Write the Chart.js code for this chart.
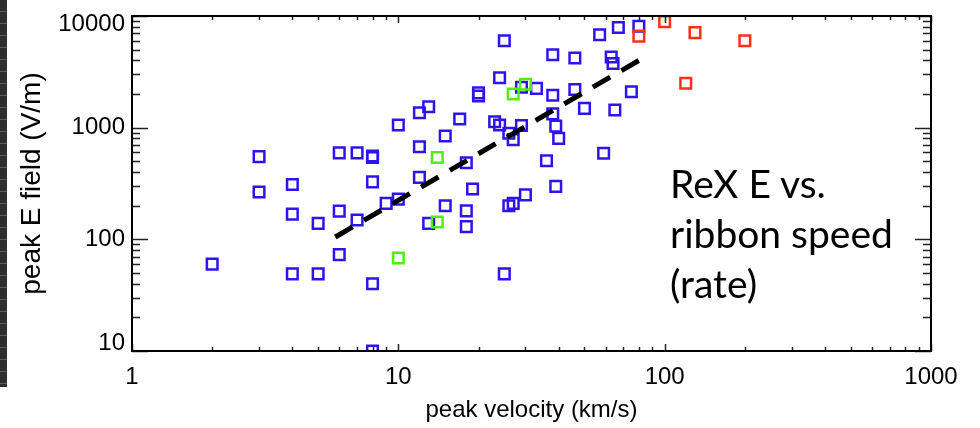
<!DOCTYPE html>
<html>
<head>
<meta charset="utf-8">
<script src="https://cdn.jsdelivr.net/npm/chart.js"></script>
<style>
    html, body { margin: 0; padding: 0; background: #fff; }
    #wrap { position: relative; width: 980px; height: 428px; overflow: hidden; }
    /* dark strip on the left edge of the screenshot */
    #edge {
        position: absolute; left: 0; top: 0; width: 7px; height: 387px;
        background: repeating-linear-gradient(to bottom, #2e2e2e 0, #2e2e2e 11px, #5c5c5c 11px, #5c5c5c 12px);
    }
    #note {
        position: absolute; left: 670px; top: 158px;
        font-family: Lato; font-size: 39px; line-height: 50px; color: #000;
    }
</style>
</head>
<body>
<div id="wrap">
    <canvas id="rexChart" width="980" height="428"></canvas>
    <div id="edge"></div>
    <div id="note">ReX E vs.<br>ribbon speed<br>(rate)</div>
</div>

<script>
    // Datos (velocidad km/s, campo E V/m)
    const blueV = [2, 3, 3, 4, 4, 4, 5, 5, 6, 6, 6, 7, 7, 8, 8, 8, 8, 8, 9, 10, 10, 12, 12, 12, 13, 13, 15, 15, 17, 18, 18, 18, 19, 20, 20, 23, 24, 24, 25, 25, 26, 26, 27, 27, 29, 29, 30, 33, 36, 38, 38, 38, 39, 39, 40, 46, 46, 50, 57, 59, 63, 64, 65, 67, 75, 80];
    const blueE = [60, 550, 265, 310, 168, 49, 139, 49, 595, 179, 73, 595, 149, 557, 540, 327, 40, 10, 210, 1055, 229, 675, 359, 1360, 1540, 139, 841, 200, 1195, 485, 180, 130, 282, 1920, 2050, 1130, 2800, 1055, 6000, 49, 890, 200, 781, 210, 1045, 2300, 250, 2250, 505, 4500, 1950, 1330, 1033, 298, 801, 4200, 2200, 1490, 6800, 590, 4300, 3750, 1440, 7900, 2100, 8100];

    const greenV = [10, 14, 14, 27, 30];
    const greenE = [68, 540, 143, 2000, 2450];

    const redV = [80, 100, 130, 200, 120];
    const redE = [6600, 8900, 7100, 6000, 2500];

    // ajuste (linea discontinua)
    const fitV = [5.8, 80];
    const fitE = [105, 4000];

    const xTicks = [1, 10, 100, 1000];
    const yTicks = [10, 100, 1000, 10000];

    const toPts = (xs, ys) => xs.map((v, i) => ({x: v, y: ys[i]}));

    Chart.defaults.font.family = "'Liberation Sans', Arial, sans-serif";
    Chart.defaults.color = '#000';

    // marco con marcas de escala hacia adentro en los cuatro lados
    const frameTicks = {
        id: 'frameTicks',
        afterDatasetsDraw(chart) {
            const {ctx, chartArea: a, scales: {x, y}} = chart;
            ctx.save();
            ctx.strokeStyle = '#222';
            ctx.lineWidth = 1.5;
            ctx.beginPath();
            for (let d = 1; d <= 1000; d *= 10) {
                for (let m = 1; m <= 9; m++) {
                    const v = d * m;
                    if (v > 1000) break;
                    const px = Math.round(x.getPixelForValue(v)) + 0.5;
                    const len = m === 1 ? 7 : 4;
                    ctx.moveTo(px, a.bottom); ctx.lineTo(px, a.bottom - len);
                    ctx.moveTo(px, a.top); ctx.lineTo(px, a.top + len);
                }
            }
            for (let d = 10; d <= 10000; d *= 10) {
                for (let m = 1; m <= 9; m++) {
                    const v = d * m;
                    if (v > 10000) break;
                    const py = Math.round(y.getPixelForValue(v)) + 0.5;
                    const len = m === 1 ? 16 : 8;
                    ctx.moveTo(a.left, py); ctx.lineTo(a.left + len, py);
                    ctx.moveTo(a.right, py); ctx.lineTo(a.right - len, py);
                }
            }
            ctx.stroke();
            ctx.strokeStyle = '#000';
            ctx.lineWidth = 2;
            ctx.strokeRect(a.left, a.top, a.right - a.left, a.bottom - a.top);
            ctx.restore();
        }
    };

    const ctx = document.getElementById('rexChart').getContext('2d');

    const squares = (color) => ({
        showLine: false,
        pointStyle: 'rect',
        pointRadius: 7.5,
        pointBorderWidth: 2.5,
        pointBorderColor: color,
        pointBackgroundColor: 'rgba(0,0,0,0)',
        borderColor: color,
        clip: 0
    });

    const rexChart = new Chart(ctx, {
        type: 'scatter',
        data: {
            datasets: [
                Object.assign({label: 'fit', data: toPts(fitV, fitE), showLine: true, borderColor: '#000', borderWidth: 5, borderDash: [20, 13.1], pointRadius: 0, order: 0, clip: 0}),
                Object.assign({label: 'green', data: toPts(greenV, greenE), order: 1}, squares('#4ff010')),
                Object.assign({label: 'red', data: toPts(redV, redE), order: 2}, squares('#ff3018')),
                Object.assign({label: 'blue', data: toPts(blueV, blueE), order: 3}, squares('#2d14eb'))
            ]
        },
        plugins: [frameTicks],
        options: {
            responsive: false,
            animation: false,
            devicePixelRatio: 1,
            layout: { padding: { top: 16, right: 49, left: 0, bottom: 0 } },
            plugins: {
                legend: { display: false },
                tooltip: { enabled: false }
            },
            scales: {
                x: {
                    type: 'logarithmic',
                    min: 1,
                    max: 1000,
                    afterBuildTicks: s => { s.ticks = xTicks.map(v => ({value: v})); },
                    afterFit: s => { s.height = 77; s.paddingLeft = 0; s.paddingRight = 0; },
                    grid: { display: false, drawTicks: false },
                    border: { display: false },
                    ticks: {
                        autoSkip: false,
                        maxRotation: 0,
                        padding: 12,
                        font: { size: 24 },
                        callback: v => String(v)
                    },
                    title: {
                        display: true,
                        text: 'peak velocity (km/s)',
                        font: { size: 24 },
                        padding: { top: 0, bottom: 3 }
                    }
                },
                y: {
                    type: 'logarithmic',
                    min: 10,
                    max: 10000,
                    afterBuildTicks: s => { s.ticks = yTicks.map(v => ({value: v})); },
                    afterFit: s => { s.width = 132; s.paddingTop = 0; s.paddingBottom = 0; },
                    grid: { display: false, drawTicks: false },
                    border: { display: false },
                    ticks: {
                        autoSkip: false,
                        padding: 7,
                        font: { size: 24, lineHeight: 0.667 },
                        // etiquetas de los extremos corridas hacia adentro
                        callback: v => v === 10000 ? ['', '10000'] : (v === 10 ? ['10', ''] : String(v))
                    },
                    title: {
                        display: true,
                        text: 'peak E field (V/m)',
                        font: { size: 28 },
                        padding: { top: 15, bottom: 0 }
                    }
                }
            }
        }
    });
</script>
</body>
</html>
